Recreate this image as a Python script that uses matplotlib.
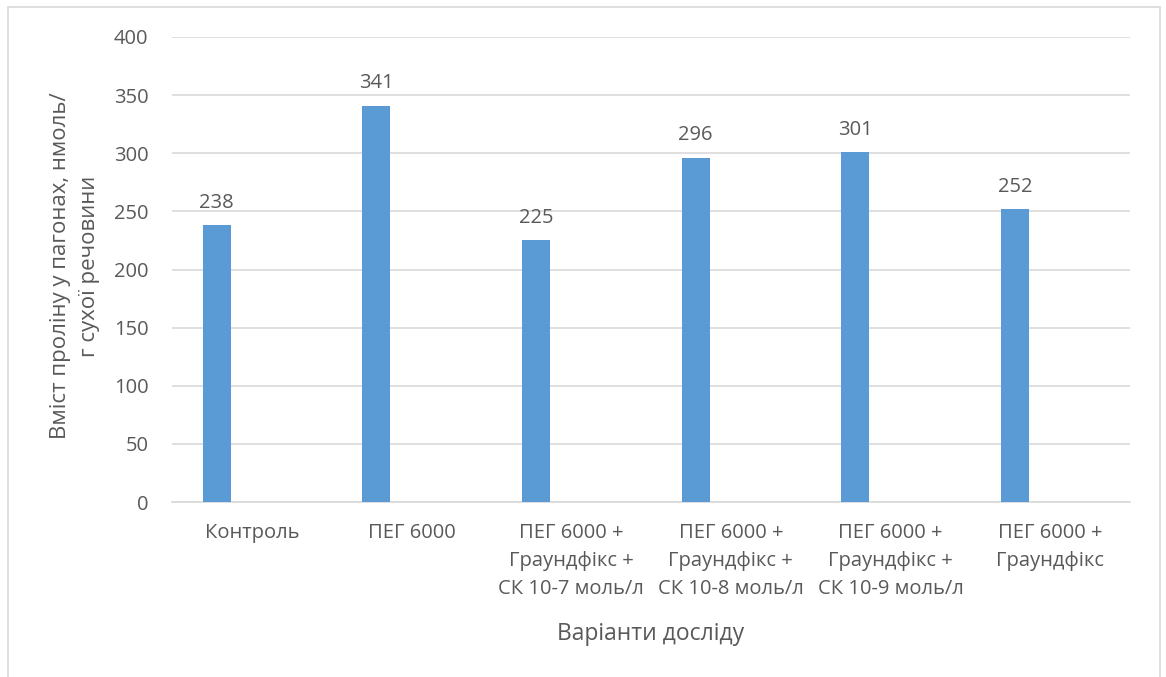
import matplotlib
matplotlib.use("Agg")
import matplotlib.pyplot as plt
from matplotlib.patches import Rectangle

plt.rcParams['font.family'] = ['Open Sans', 'DejaVu Sans']

# data
categories = ["Контроль", "ПЕГ 6000", "ПЕГ 6000 +\nГраундфікс +\nСК 10-7 моль/л",
              "ПЕГ 6000 +\nГраундфікс +\nСК 10-8 моль/л", "ПЕГ 6000 +\nГраундфікс +\nСК 10-9 моль/л",
              "ПЕГ 6000 +\nГраундфікс"]
values = [238, 341, 225, 296, 301, 252]
y_ticks = [0, 50, 100, 150, 200, 250, 300, 350, 400]

text_col = '#595959'
bar_col = '#5B9BD5'
grid_col = '#D9D9D9'
W, H = 1166, 677

fig = plt.figure(figsize=(W / 100, H / 100), dpi=100)
# light frame round the chart area (bottom edge runs off the image)
fig.patches.append(Rectangle((8 / W, -0.01), 1152 / W, 1 - 7 / H + 0.01, transform=fig.transFigure,
                             fill=False, edgecolor=grid_col, lw=1.2))

ax = fig.add_axes([172 / W, 1 - 502 / H, (1130 - 172) / W, (502 - 37) / H])
x = list(range(len(categories)))
pos = [i - 0.22 for i in x]
ax.bar(pos, values, width=0.175, color=bar_col, zorder=3)
for p, v in zip(pos, values):
    ax.annotate(str(v), (p, v), xytext=(0, 9), textcoords='offset points',
                ha='center', va='bottom', fontsize=14.5, color=text_col)

ax.set_xlim(-0.5, len(categories) - 0.5)
ax.set_ylim(0, 400)
ax.set_yticks(y_ticks)
ax.yaxis.grid(True, color=grid_col, lw=1.2, zorder=0)
ax.set_xticks(x)
ax.set_xticklabels(categories, fontsize=14.5, color=text_col, linespacing=1.55)
ax.tick_params(axis='y', labelsize=14.5, labelcolor=text_col, length=0, pad=17)
ax.tick_params(axis='x', length=0, pad=15)
for s in ['top', 'right', 'left']:
    ax.spines[s].set_visible(False)
ax.spines['bottom'].set_color(grid_col)
ax.spines['bottom'].set_linewidth(1.2)

fig.text(75 / W, 1 - 266 / H, "Вміст проліну у пагонах, нмоль/\nг сухої речовини",
         rotation=90, ha='center', va='center', fontsize=16, color=text_col, linespacing=1.45)
fig.text(651 / W, 1 - 634 / H, "Варіанти досліду", ha='center', va='center',
         fontsize=16.5, color=text_col)

fig.savefig("out.png", dpi=100, facecolor='white')
